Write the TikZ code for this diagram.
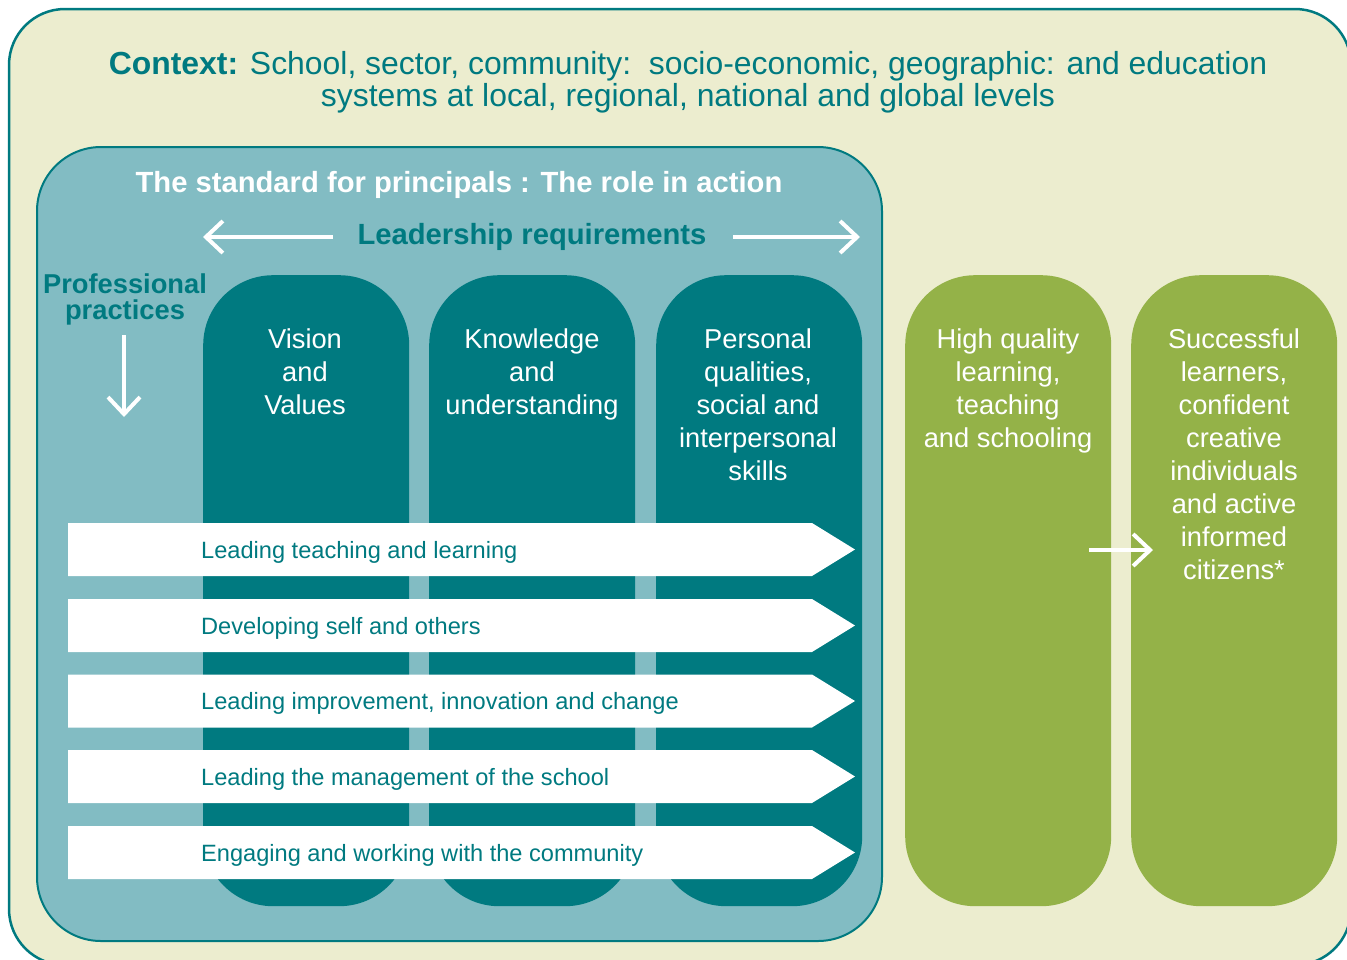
\documentclass[tikz,border=0pt]{standalone}
\usepackage{fontspec}
\setmainfont{Liberation Sans}
\usetikzlibrary{arrows.meta}
\definecolor{darkteal}{RGB}{0,122,128}
\definecolor{lightteal}{RGB}{130,188,195}
\definecolor{creambg}{RGB}{236,237,207}
\definecolor{leafgreen}{RGB}{148,178,72}
\tikzset{
  colbox/.style={fill=darkteal, rounded corners=70pt, minimum width=206pt, minimum height=631pt, inner sep=0pt, anchor=north west},
  greenbox/.style={colbox, fill=leafgreen},
  coltext/.style={text=white, font=\fontsize{27.3}{33}\selectfont, align=center, anchor=north, inner sep=0pt},
  practice/.style={fill=white},
  practext/.style={text=darkteal, font=\fontsize{23.6}{26}\selectfont, anchor=base west, inner sep=0pt},
  whitearrow/.style={draw=white, line width=4pt, -{Straight Barb[length=17pt,width=32pt]}},
}
\begin{document}
\begin{tikzpicture}[x=1pt,y=-1pt]
\useasboundingbox (0,0) rectangle (1347,959);
% outer context box
\draw[darkteal, line width=2.5pt, fill=creambg, rounded corners=56pt] (9,9) rectangle (1351,965);
\node[text=darkteal, font=\fontsize{31.9}{32.5}\selectfont, align=center, anchor=north, inner sep=0pt] (context) at (688,51)
  {\textbf{Context:} School, sector, community:\ \ socio-economic, geographic: and education\\systems at local, regional, national and global levels};
% standard box
\draw[darkteal, line width=2pt, fill=lightteal, rounded corners=64pt] (37,147) rectangle (882,941);
\node[text=white, font=\bfseries\fontsize{29.2}{30}\selectfont, anchor=base, inner sep=0pt] (standard) at (459,192) {The standard for principals : The role in action};
\node[text=darkteal, font=\bfseries\fontsize{29.2}{30}\selectfont, anchor=base, inner sep=0pt] (leadreq) at (532,244) {Leadership requirements};
\coordinate (la1) at (333,237); \coordinate (la2) at (203,237);
\coordinate (ra1) at (733,237); \coordinate (ra2) at (860,237);
\draw[whitearrow] (la1) -- (la2);
\draw[whitearrow] (ra1) -- (ra2);
\node[text=darkteal, font=\bfseries\fontsize{27.3}{26}\selectfont, align=center, anchor=north, inner sep=0pt] (profprac) at (125,274) {Professional\\practices};
\coordinate (da1) at (124,335); \coordinate (da2) at (124,417);
\draw[whitearrow] (da1) -- (da2);
% columns
\node[colbox] (colA) at (203,275) {};
\node[colbox] (colB) at (429,275) {};
\node[colbox] (colC) at (656,275) {};
\node[greenbox] (colD) at (905,275) {};
\node[greenbox] (colE) at (1131,275) {};
\node[coltext] (tA) at (305,329) {Vision\\and\\Values};
\node[coltext] (tB) at (532,329) {Knowledge\\and\\understanding};
\node[coltext] (tC) at (758,329) {Personal\\qualities,\\social and\\interpersonal\\skills};
\node[coltext] (tD) at (1008,329) {High quality\\learning,\\teaching\\and schooling};
\node[coltext] (tE) at (1234,329) {Successful\\learners,\\confident\\creative\\individuals\\and active\\informed\\citizens*};
% practice arrows
\foreach \yc/\name/\txt in {549.5/p1/Leading teaching and learning,
                           625.5/p2/Developing self and others,
                           701/p3/{Leading improvement, innovation and change},
                           776.5/p4/Leading the management of the school,
                           852.5/p5/Engaging and working with the community}{
  \fill[practice] (68,\yc-26.5) -- (812,\yc-26.5) -- (855,\yc) -- (812,\yc+26.5) -- (68,\yc+26.5) -- cycle;
  \node[practext] (\name) at (201,\yc+8.5) {\txt};
}
% green arrow
\coordinate (ga1) at (1089,550); \coordinate (ga2) at (1153,550);
\draw[whitearrow] (ga1) -- (ga2);
\end{tikzpicture}
\end{document}
